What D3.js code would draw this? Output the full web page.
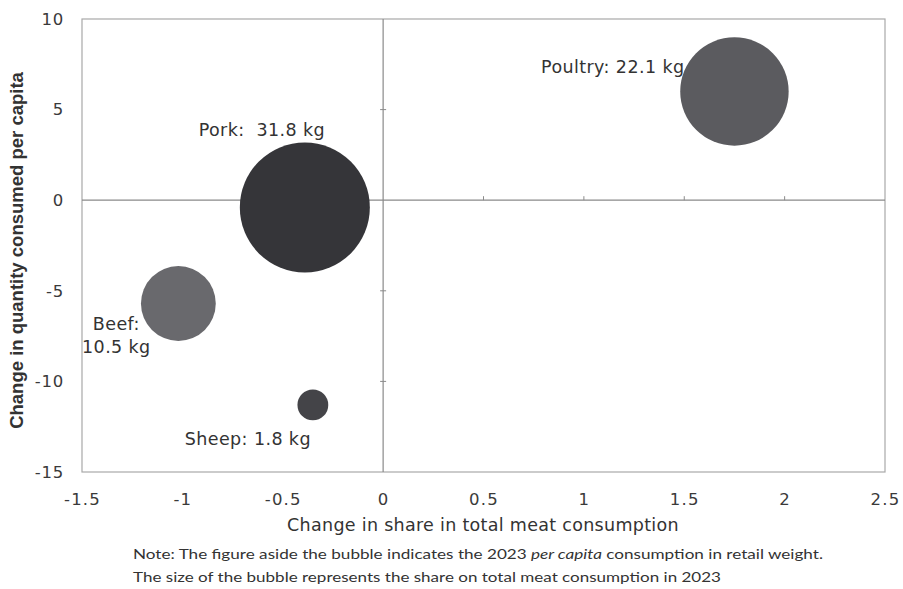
<!DOCTYPE html>
<html><head><meta charset="utf-8">
<script src="https://cdn.jsdelivr.net/npm/d3@7"></script>
<style>body{margin:0;background:#fff}svg{display:block}</style>
</head><body>
<svg id="c" width="903" height="589"></svg>
<script>
// ---- data ----
const meats = ["Pork", "Poultry", "Beef", "Sheep"];
const shareChange = [-0.39, 1.75, -1.02, -0.35];      // x: change in share (pp)
const qtyChange = [-0.4, 6.0, -5.7, -11.3];           // y: change in quantity per capita
const perCapitaKg = [31.8, 22.1, 10.5, 1.8];
const share2023 = [48.0, 33.4, 15.9, 2.7];            // bubble size
const labels = ["Pork:  31.8 kg", "Poultry: 22.1 kg", "Beef:|10.5 kg", "Sheep: 1.8 kg"];
const colors = ["#353539", "#5b5b5f", "#69696d", "#444448"];
const xTicks = [-1.5, -1, -0.5, 0, 0.5, 1, 1.5, 2, 2.5];
const yTicks = [10, 5, 0, -5, -10, -15];
const xTitle = "Change in share in total meat consumption";
const yTitle = "Change in quantity consumed per capita";
const notes = ["Note: The figure aside the bubble indicates the 2023 ", "per capita", " consumption in retail weight.",
               "The size of the bubble represents the share on total meat consumption in 2023"];

// ---- layout ----
const L = 82, R = 885, T = 19, B = 472;
const svg = d3.select("#c");
const x = d3.scaleLinear().domain([-1.5, 2.5]).range([L, R]);
const y = d3.scaleLinear().domain([-15, 10]).range([B, T]);
const r = d3.scaleSqrt().domain([0, 48]).range([0, 65]);
const fmt = d => d3.format("~g")(d).replace("\u2212", "-");

// plot frame
svg.append("rect").attr("x", L).attr("y", T).attr("width", R - L).attr("height", B - T)
  .attr("fill", "none").attr("stroke", "#a8a8a8").attr("stroke-width", 1.2);

// zero lines
svg.append("line").attr("x1", L).attr("x2", R).attr("y1", y(0)).attr("y2", y(0)).attr("stroke", "#8a8a8a").attr("stroke-width", 1.2);
svg.append("line").attr("x1", x(0)).attr("x2", x(0)).attr("y1", T).attr("y2", B).attr("stroke", "#8a8a8a").attr("stroke-width", 1.2);

// small ticks on zero lines
svg.append("g").selectAll("line").data(yTicks.filter(d => d !== 0 && d !== 10 && d !== -15)).join("line")
  .attr("x1", x(0) - 3).attr("x2", x(0) + 3).attr("y1", d => y(d)).attr("y2", d => y(d)).attr("stroke", "#8a8a8a");
svg.append("g").selectAll("line").data(xTicks.filter(d => d > 0 && d < 2.5)).join("line")
  .attr("x1", d => x(d)).attr("x2", d => x(d)).attr("y1", y(0) - 4).attr("y2", y(0)).attr("stroke", "#8a8a8a");

// axes tick labels
const tickFont = "DejaVu Sans, Verdana, sans-serif";
const xAxis = d3.axisBottom(x).tickValues(xTicks).tickSize(0).tickPadding(0).tickFormat(fmt);
const gx = svg.append("g").attr("transform", `translate(0,${B + 21})`).call(xAxis);
gx.select(".domain").remove();
gx.selectAll("text").attr("font-family", tickFont).attr("font-size", 16.5).attr("letter-spacing", 1.2).attr("fill", "#3a3a3a");

const yAxis = d3.axisLeft(y).tickValues(yTicks).tickSize(0).tickPadding(0).tickFormat(fmt);
const gy = svg.append("g").attr("transform", `translate(${L - 18},0)`).call(yAxis);
gy.select(".domain").remove();
gy.selectAll("text").attr("font-family", tickFont).attr("font-size", 16.5).attr("letter-spacing", 0.8).attr("fill", "#3a3a3a");

// bubbles
const data = meats.map((m, i) => ({m, x: shareChange[i], y: qtyChange[i], s: share2023[i], c: colors[i], lab: labels[i]}));
svg.append("g").selectAll("circle").data(data).join("circle")
  .attr("cx", d => x(d.x)).attr("cy", d => y(d.y)).attr("r", d => r(d.s)).attr("fill", d => d.c);

// labels
const labPos = {
  Pork: {dx: -43, dy: -71, anchor: "middle"},
  Poultry: {dx: -50, dy: -18, anchor: "end"},
  Beef: {dx: -62, dy: 27, anchor: "middle"},
  Sheep: {dx: -65, dy: 40, anchor: "middle"}
};
data.forEach(d => {
  const p = labPos[d.m];
  const t = svg.append("text").attr("font-family", tickFont).attr("font-size", 17.5).attr("letter-spacing", 0.4).attr("fill", "#333")
    .attr("text-anchor", p.anchor)
    .attr("x", x(d.x) + p.dx).attr("y", y(d.y) + p.dy);
  const parts = d.lab.split("|");
  parts.forEach((s, k) => t.append("tspan").attr("x", x(d.x) + p.dx).attr("dy", k ? 23 : 0).attr("xml:space", "preserve").text(s));
});

// axis titles
svg.append("text").attr("x", 483).attr("y", 531).attr("text-anchor", "middle")
  .attr("font-family", tickFont).attr("font-size", 17.5).attr("letter-spacing", 0.3).attr("fill", "#333").text(xTitle);
svg.append("text").attr("transform", `translate(23,${(T + B) / 2 + 5}) rotate(-90)`).attr("text-anchor", "middle")
  .attr("font-family", "Liberation Sans, Arial, sans-serif").attr("font-size", 18.5).attr("font-weight", "bold").attr("fill", "#333").text(yTitle);

// notes
const noteFont = "Lato, Open Sans, sans-serif";
const n1 = svg.append("text").attr("x", 133).attr("y", 559).attr("font-family", noteFont).attr("font-size", 14).attr("fill", "#333")
  .attr("textLength", 690).attr("lengthAdjust", "spacingAndGlyphs");
n1.append("tspan").text(notes[0]);
n1.append("tspan").attr("font-style", "italic").text(notes[1]);
n1.append("tspan").text(notes[2]);
svg.append("text").attr("x", 133).attr("y", 582).attr("font-family", noteFont).attr("font-size", 14).attr("fill", "#333")
  .attr("textLength", 588).attr("lengthAdjust", "spacingAndGlyphs").text(notes[3]);
</script>
</body></html>
